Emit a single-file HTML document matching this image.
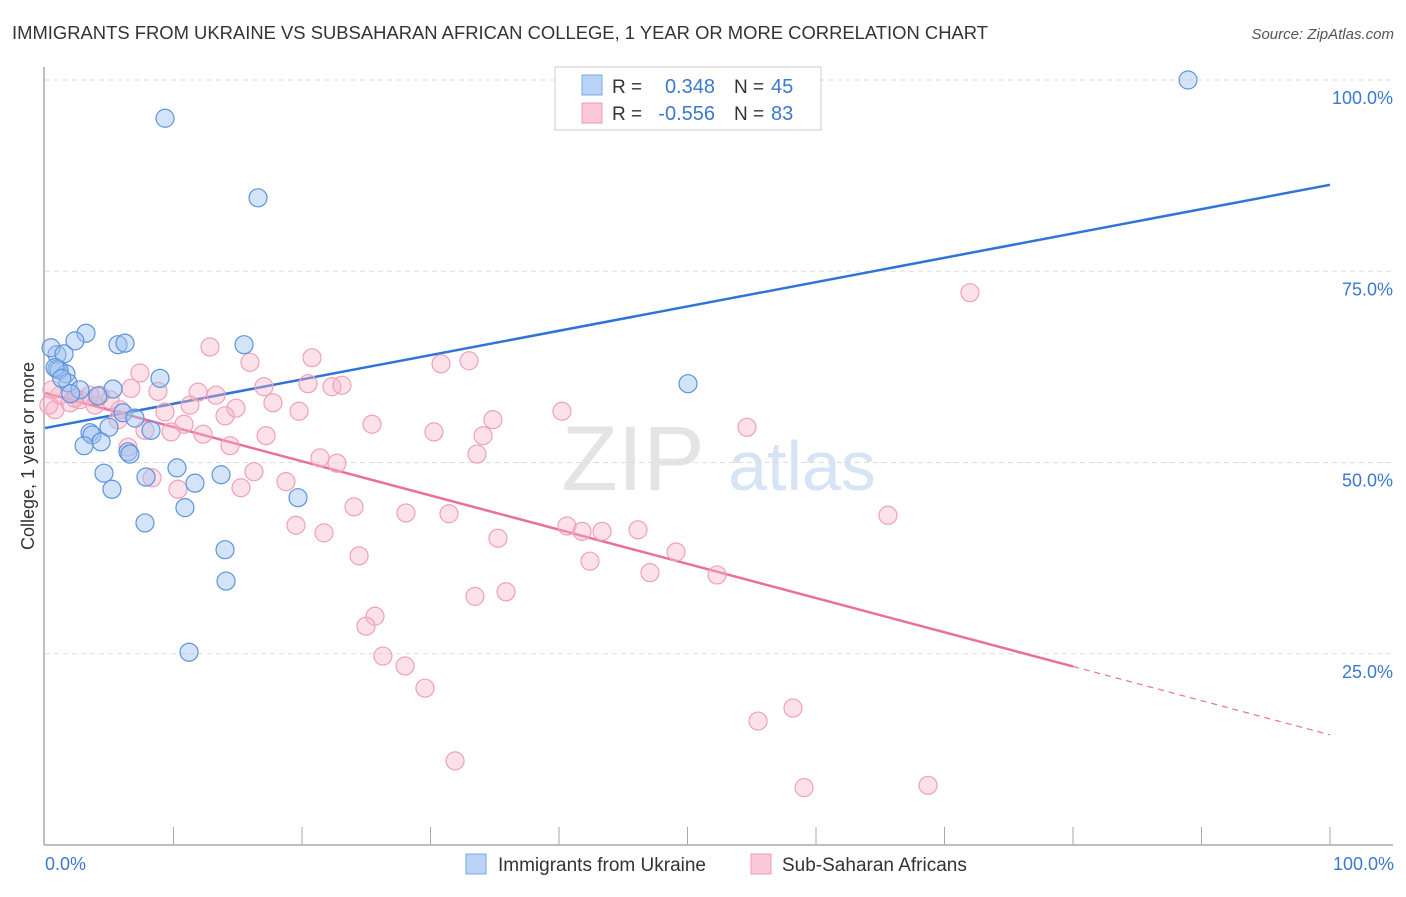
<!DOCTYPE html>
<html><head><meta charset="utf-8"><style>
body{margin:0;background:#fff;font-family:"Liberation Sans",sans-serif;}
svg text{font-family:"Liberation Sans",sans-serif;}
</style></head><body>
<svg id="chart" width="1406" height="892" xmlns="http://www.w3.org/2000/svg">
<text x="12" y="39" font-size="18" fill="#333" textLength="976" lengthAdjust="spacingAndGlyphs">IMMIGRANTS FROM UKRAINE VS SUBSAHARAN AFRICAN COLLEGE, 1 YEAR OR MORE CORRELATION CHART</text>
<text x="1394" y="39" font-size="15" fill="#555" font-style="italic" text-anchor="end">Source: ZipAtlas.com</text>
<g><text x="633" y="490" font-size="92" fill="#e4e4e4" text-anchor="middle" font-family="Liberation Serif,serif">ZIP</text><text x="802" y="490" font-size="70" fill="#d6e4f5" text-anchor="middle">atlas</text></g>
<g id="grid"></g><g id="axes"></g><g id="lines"></g><g id="pts"></g>
<text transform="translate(34,456) rotate(-90)" font-size="18" fill="#333" text-anchor="middle">College, 1 year or more</text>
<text x="45" y="870" font-size="18" fill="#3b78d0">0.0%</text>
<text x="1394" y="870" font-size="18" fill="#3b78d0" text-anchor="end">100.0%</text>
<g>
<rect x="555" y="67" width="266" height="63" fill="#fff" stroke="#ccc"/>
<rect x="582" y="75" width="20" height="20" fill="#b8d3f5" stroke="#7aa7e6"/>
<rect x="582" y="103" width="20" height="20" fill="#fac9d8" stroke="#f098b4"/>
<text x="612" y="93" font-size="19" fill="#333">R =</text><text x="715" y="93" font-size="20" fill="#3b78d0" text-anchor="end">0.348</text>
<text x="734" y="93" font-size="19" fill="#333">N =</text><text x="771" y="93" font-size="20" fill="#3b78d0">45</text>
<text x="612" y="120" font-size="19" fill="#333">R =</text><text x="715" y="120" font-size="20" fill="#3b78d0" text-anchor="end">-0.556</text>
<text x="734" y="120" font-size="19" fill="#333">N =</text><text x="771" y="120" font-size="20" fill="#3b78d0">83</text>
</g>
<g>
<rect x="466" y="854" width="20" height="20" fill="#b8d3f5" stroke="#7aa7e6"/>
<text x="498" y="871" font-size="19" fill="#333">Immigrants from Ukraine</text>
<rect x="751" y="854" width="20" height="20" fill="#fac9d8" stroke="#f098b4"/>
<text x="782" y="871" font-size="19" fill="#333">Sub-Saharan Africans</text>
</g>
</svg>
<script>
const blueX=[88.95,9.34,16.58,0.93,3.19,2.33,0.47,1.48,5.68,6.23,15.49,0.93,1.63,1.09,1.79,8.95,2.72,5.29,4.12,6.07,7.00,4.98,8.25,3.50,3.66,4.36,3.04,6.46,6.61,10.27,4.59,7.86,13.70,11.67,5.21,10.89,19.69,7.78,14.01,14.09,11.21,50.04,0.78,2.0,1.3];
const blueY=[100.0,95.0,84.6,64.1,66.9,65.9,65.0,64.2,65.4,65.6,65.4,62.2,61.6,62.1,60.4,61.0,59.5,59.6,58.7,56.5,55.8,54.6,54.2,53.9,53.6,52.7,52.2,51.4,51.1,49.3,48.6,48.1,48.4,47.3,46.5,44.1,45.4,42.1,38.6,34.5,25.2,60.3,62.4,59.0,61.0];
const pinkX=[71.98,12.84,20.78,15.95,33.0,30.82,7.39,6.69,8.79,17.04,20.47,22.33,23.11,11.91,13.31,11.28,17.74,14.86,19.77,14.01,9.34,5.84,40.23,25.45,34.86,30.27,10.82,12.30,9.81,17.20,54.63,14.40,34.09,33.62,6.46,21.40,22.72,16.26,8.33,18.75,10.35,15.25,24.05,28.09,31.44,65.60,19.53,21.71,40.62,41.79,43.35,46.15,35.25,24.44,49.11,42.41,47.08,52.30,25.68,35.88,33.46,24.98,26.30,28.02,29.57,58.21,55.49,31.91,59.07,68.72,0.78,1.95,1.17,2.72,3.89,5.06,0.54,2.33,4.28,5.68,3.50,7.78,0.3];
const pinkY=[72.2,65.1,63.7,63.1,63.3,62.9,61.7,59.7,59.3,59.9,60.3,59.9,60.1,59.2,58.8,57.5,57.8,57.1,56.7,56.1,56.6,56.9,56.7,55.0,55.6,54.0,55.0,53.7,54.0,53.5,54.6,52.2,53.5,51.1,52.0,50.6,49.9,48.8,48.0,47.5,46.5,46.7,44.2,43.4,43.3,43.1,41.8,40.8,41.7,41.0,41.0,41.2,40.1,37.8,38.3,37.1,35.6,35.3,29.9,33.1,32.5,28.6,24.7,23.4,20.5,17.9,16.2,11.0,7.5,7.8,56.9,57.8,58.8,58.2,57.5,58.2,59.5,58.4,58.8,55.6,58.8,54.2,57.5];
const blueTrend=[54.5,86.3];
const pinkTrend=[59.1,14.4];
const yTicks=[25,50,75,100];
const yTickLabels=["25.0%","50.0%","75.0%","100.0%"];
const xTicks=[10,20,30,40,50,60,70,80,90,100];
const NS="http://www.w3.org/2000/svg";
const sx=v=>45+v*12.85, sy=v=>845-v*7.65;
function mk(tag,attrs,parent){const e=document.createElementNS(NS,tag);for(const k in attrs)e.setAttribute(k,attrs[k]);document.getElementById(parent).appendChild(e);return e;}
yTicks.forEach((t,i)=>{
 const l=mk('line',{x1:45,x2:1393,y1:sy(t),y2:sy(t),stroke:'#ddd','stroke-dasharray':'5,4'},'grid');
 
 
 const tx=mk('text',{x:1393,y:sy(t)+24,'font-size':18,fill:'#3b78d0','text-anchor':'end'},'grid');
 tx.textContent=yTickLabels[i];
 
 
});
const ya=mk('line',{x1:44,x2:44,y1:67,y2:845,stroke:'#aaa','stroke-width':1.5},'axes');


const xa=mk('line',{x1:44,x2:1393,y1:845,y2:845,stroke:'#aaa','stroke-width':1.5},'axes');


xTicks.forEach(t=>{const k=mk('line',{x1:sx(t),x2:sx(t),y1:827,y2:845,stroke:'#aaa'},'axes');
 
 });
const bl=mk('line',{x1:sx(0),y1:sy(blueTrend[0]),x2:sx(100),y2:sy(blueTrend[1]),stroke:'#2f74d6','stroke-width':2.5},'lines');


const pAt=x=>pinkTrend[0]+(pinkTrend[1]-pinkTrend[0])*x/100;
const pl=mk('line',{x1:sx(0),y1:sy(pAt(0)),x2:sx(80),y2:sy(pAt(80)),stroke:'#e8709a','stroke-width':2.5},'lines');


const pd=mk('line',{x1:sx(80),y1:sy(pAt(80)),x2:sx(100),y2:sy(pAt(100)),stroke:'#e8709a','stroke-width':1.2,'stroke-dasharray':'6,5'},'lines');


pinkX.forEach((x,i)=>{const c=mk('circle',{cx:sx(x),cy:sy(pinkY[i]),r:9,fill:'rgba(248,180,200,0.4)',stroke:'#f0a0bb','stroke-width':1.2},'pts');
 
 });
blueX.forEach((x,i)=>{const c=mk('circle',{cx:sx(x),cy:sy(blueY[i]),r:9,fill:'rgba(160,195,240,0.45)',stroke:'#5d93dd','stroke-width':1.2},'pts');
 
 });
</script>
</body></html>
